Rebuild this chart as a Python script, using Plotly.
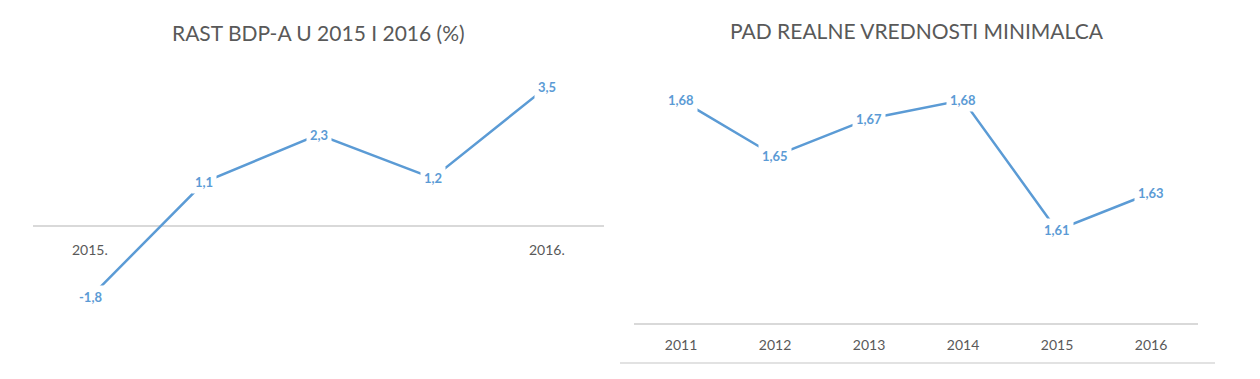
import plotly.graph_objects as go

# Left chart data
gdp_labels = ["2015.", "", "", "", "2016."]
gdp_values = [-1.8, 1.1, 2.3, 1.2, 3.5]
gdp_title = "RAST BDP-A U 2015 I 2016 (%)"

# Right chart data
wage_years = ["2011", "2012", "2013", "2014", "2015", "2016"]
wage_values = [1.68, 1.65, 1.67, 1.68, 1.61, 1.63]
wage_title = "PAD REALNE VREDNOSTI MINIMALCA"

BLUE = "#5B9BD5"
GRAY = "#595959"
AXIS = "#D9D9D9"
FONT = "Lato"

# page has an 8px body margin; figure size and mapping account for it
OFF = 8
W, H = 1252, 371


def px(p):
    return (p - OFF) / W


def py(p):
    return 1 - (p - OFF) / H


def fmt(v, d):
    return f"{v:.{d}f}".replace(".", ",")


fig = go.Figure()

gdp_x = list(range(len(gdp_values)))
wage_x = list(range(len(wage_values)))
fig.add_trace(go.Scatter(x=gdp_x, y=gdp_values, mode="lines",
                         line=dict(color=BLUE, width=2.5),
                         xaxis="x", yaxis="y", hoverinfo="skip"))
fig.add_trace(go.Scatter(x=wage_x, y=wage_values, mode="lines",
                         line=dict(color=BLUE, width=2.5),
                         xaxis="x2", yaxis="y2", hoverinfo="skip"))

annotations = []
for x, v in zip(gdp_x, gdp_values):
    annotations.append(dict(x=x, y=v, xref="x", yref="y", text=f"<b>{fmt(v, 1)}</b>",
                            showarrow=False, bgcolor="white", borderpad=3,
                            font=dict(family=FONT, size=13, color=BLUE)))
for x, t in zip(gdp_x, gdp_labels):
    if t:
        annotations.append(dict(x=x, y=0, xref="x", yref="y", text=t, yshift=-24,
                                showarrow=False,
                                font=dict(family=FONT, size=14, color=GRAY)))
for x, v in zip(wage_x, wage_values):
    annotations.append(dict(x=x, y=v, xref="x2", yref="y2", text=f"<b>{fmt(v, 2)}</b>",
                            showarrow=False, bgcolor="white", borderpad=3,
                            font=dict(family=FONT, size=13, color=BLUE)))

annotations.append(dict(x=px(318), y=py(33), xref="paper", yref="paper",
                        text=gdp_title, showarrow=False, xanchor="center", yanchor="middle",
                        font=dict(family=FONT, size=21, color=GRAY)))
annotations.append(dict(x=px(917), y=py(31), xref="paper", yref="paper",
                        text=wage_title, showarrow=False, xanchor="center", yanchor="middle",
                        font=dict(family=FONT, size=21, color=GRAY)))

fig.update_layout(
    width=W, height=H,
    margin=dict(l=0, r=0, t=0, b=0),
    paper_bgcolor="white", plot_bgcolor="white",
    showlegend=False,
    annotations=annotations,
    xaxis=dict(domain=[px(33), px(604)], range=[-0.5, 4.5],
               showgrid=False, zeroline=False, showticklabels=False, showline=False),
    yaxis=dict(domain=[py(345), py(67)], range=[-3, 4],
               showgrid=False, zeroline=True, zerolinecolor=AXIS, zerolinewidth=1.5,
               showticklabels=False, showline=False),
    xaxis2=dict(domain=[px(634), px(1198)], range=[-0.5, 5.5],
                tickmode="array", tickvals=wage_x, ticktext=wage_years,
                showgrid=False, zeroline=False, showline=True, linecolor=AXIS, linewidth=1.5,
                ticks="outside", ticklen=8, tickcolor="rgba(0,0,0,0)",
                tickfont=dict(family=FONT, size=14, color=GRAY), anchor="y2"),
    yaxis2=dict(domain=[py(323), py(63)], range=[1.56, 1.70],
                showgrid=False, zeroline=False, showticklabels=False, showline=False,
                anchor="x2"),
    shapes=[dict(type="line", xref="paper", yref="paper",
                 x0=px(620), x1=px(1215), y0=py(363), y1=py(363),
                 line=dict(color=AXIS, width=1.5))],
)

fig.write_html("out.html")
